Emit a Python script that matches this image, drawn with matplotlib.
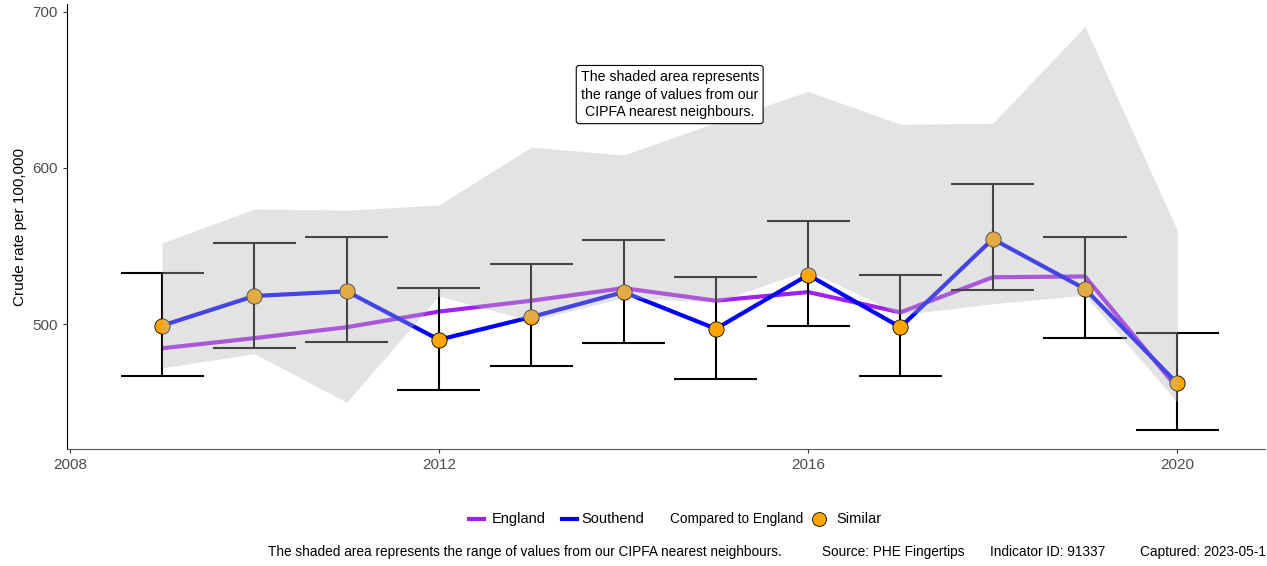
import numpy as np
import matplotlib.pyplot as plt
from matplotlib.lines import Line2D

# Data
years = np.array([2009, 2010, 2011, 2012, 2013, 2014, 2015, 2016, 2017, 2018, 2019, 2020])
southend = np.array([499, 518, 521, 490, 504.5, 520.5, 497, 531.5, 498, 554.5, 522.5, 462])
southend_lo = np.array([467, 485, 488.7, 458, 473, 488, 465, 499, 467, 522, 491, 432])
southend_hi = np.array([533, 552, 555.6, 523, 538.5, 554, 530, 566, 531.4, 589.5, 556, 494])
england = np.array([484.5, 491, 498, 508, 515, 523, 515, 520.5, 507.5, 530, 530.5, 459])
cipfa_min = np.array([472, 481, 450, 518, 502, 517, 514, 534.5, 506, 513, 518.5, 450])
cipfa_max = np.array([552, 573.7, 573, 576.3, 613.3, 608.3, 629, 649, 628, 628.6, 690.6, 560])

plt.rcParams['font.family'] = ['Liberation Sans', 'DejaVu Sans']

W, H = 1267, 566
fig = plt.figure(figsize=(W / 100, H / 100), dpi=100)
ax = fig.add_axes([67 / W, 1 - 449 / H, 1198 / W, 445 / H])

ax.plot(years, england, color='#a020f0', lw=3, zorder=1, solid_capstyle='butt')
ax.plot(years, southend, color='#0000ff', lw=3, zorder=2, solid_capstyle='butt')
ax.errorbar(years, southend, yerr=[southend - southend_lo, southend_hi - southend],
            fmt='none', ecolor='black', elinewidth=1.5, capsize=0, zorder=3)
ax.hlines(southend_lo, years - 0.45, years + 0.45, color='black', lw=1.5, zorder=3)
ax.hlines(southend_hi, years - 0.45, years + 0.45, color='black', lw=1.5, zorder=3)
ax.plot(years, southend, 'o', ms=11, mfc='#ffa500', mec='black', mew=0.6, zorder=4)
ax.fill_between(years, cipfa_min, cipfa_max, color='#b6b6b6', alpha=0.38, lw=0, zorder=5)

ax.text(2014.5, 647, 'The shaded area represents\nthe range of values from our\nCIPFA nearest neighbours.',
        ha='center', va='center', fontsize=10.2, linespacing=1.35, zorder=6,
        bbox=dict(boxstyle='round,pad=0.3,rounding_size=0.2', fc='white', ec='black', lw=0.8))

ax.set_xlim(2007.97, 2020.95)
ax.set_ylim(420, 705)
ax.set_xticks([2008, 2012, 2016, 2020])
ax.set_yticks([500, 600, 700])
ax.tick_params(labelsize=11, labelcolor='#4d4d4d', color='#333333', length=3)
ax.set_ylabel('Crude rate per 100,000', fontsize=11)
for s in ['top', 'right']:
    ax.spines[s].set_visible(False)
ax.spines['left'].set_color('black')
ax.spines['bottom'].set_color('#555555')

# Legend (laid out by hand, in pixels of the figure)
leg_y = 1 - 519 / H
fig.add_artist(Line2D([469 / W, 484 / W], [leg_y, leg_y], color='#a020f0', lw=3, transform=fig.transFigure))
fig.text(492 / W, leg_y, 'England', ha='left', va='center', fontsize=10.5)
fig.add_artist(Line2D([562 / W, 577 / W], [leg_y, leg_y], color='#0000ff', lw=3, transform=fig.transFigure))
fig.text(581 / W, leg_y, 'Southend', ha='left', va='center', fontsize=10.5)
fig.text(670 / W, leg_y, 'Compared to England', ha='left', va='center', fontsize=9.8)
fig.add_artist(Line2D([819 / W], [leg_y], ls='none', marker='o', ms=10, mfc='#ffa500', mec='black', mew=0.6,
                      transform=fig.transFigure))
fig.text(836 / W, leg_y, 'Similar', ha='left', va='center', fontsize=10.5)

# Caption
cap_y = 1 - 552 / H
fig.text(268 / W, cap_y, 'The shaded area represents the range of values from our CIPFA nearest neighbours.',
         ha='left', va='center', fontsize=9.8)
fig.text(822 / W, cap_y, 'Source: PHE Fingertips', ha='left', va='center', fontsize=9.8)
fig.text(990 / W, cap_y, 'Indicator ID: 91337', ha='left', va='center', fontsize=9.8)
fig.text(1140 / W, cap_y, 'Captured: 2023-05-1', ha='left', va='center', fontsize=9.8)

fig.savefig('out.png', dpi=100)
